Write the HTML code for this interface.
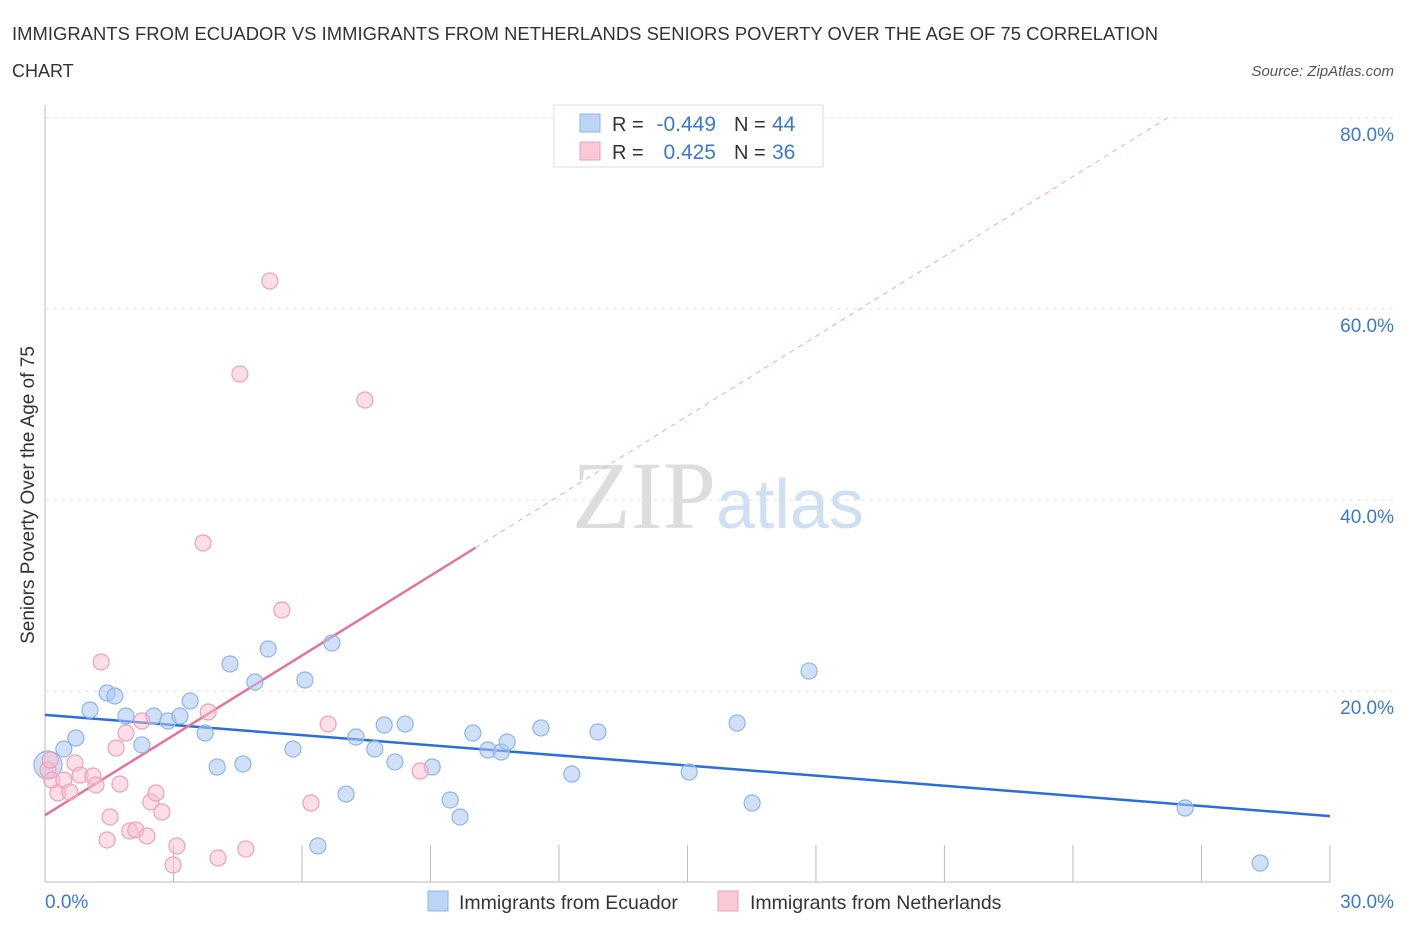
<!DOCTYPE html>
<html><head><meta charset="utf-8"><style>
body{margin:0;background:#fff;font-family:"Liberation Sans",sans-serif}
</style></head><body>
<svg width="1406" height="930" viewBox="0 0 1406 930" xmlns="http://www.w3.org/2000/svg">
<text x="12" y="40" font-size="18.4" fill="#333" textLength="1146">IMMIGRANTS FROM ECUADOR VS IMMIGRANTS FROM NETHERLANDS SENIORS POVERTY OVER THE AGE OF 75 CORRELATION</text>
<text x="12" y="77" font-size="18" fill="#333">CHART</text>
<text x="1394" y="76" font-size="15" fill="#555" font-style="italic" text-anchor="end">Source: ZipAtlas.com</text>
<g id="grid"></g>
<text x="716" y="528" font-size="96" fill="#ddd" text-anchor="end" font-family="Liberation Serif,serif">ZIP</text>
<text x="716" y="528" font-size="70" fill="#cfe0f3">atlas</text>
<text x="34" y="495" font-size="19" fill="#333" text-anchor="middle" transform="rotate(-90 34 495)">Seniors Poverty Over the Age of 75</text>
<g id="lines"></g>
<g id="pts"></g>
<g>
<rect x="554" y="105" width="269" height="62" fill="#fff" stroke="#ddd"/>
<rect x="580" y="114" width="20" height="18" fill="#bcd5f5" stroke="#8fb5e8"/>
<rect x="580" y="142" width="20" height="18" fill="#f9c9d6" stroke="#f0a0b8"/>
<text x="612" y="131" font-size="20" fill="#333">R =</text>
<text x="716" y="131" font-size="21" fill="#3a78d8" text-anchor="end">-0.449</text>
<text x="734" y="131" font-size="20" fill="#333">N =</text>
<text x="772" y="131" font-size="21" fill="#3a78d8">44</text>
<text x="612" y="159" font-size="20" fill="#333">R =</text>
<text x="716" y="159" font-size="21" fill="#3a78d8" text-anchor="end">0.425</text>
<text x="734" y="159" font-size="20" fill="#333">N =</text>
<text x="772" y="159" font-size="21" fill="#3a78d8">36</text>
</g>
<g>
<rect x="428" y="891" width="20" height="20" fill="#bcd5f5" stroke="#8fb5e8"/>
<text x="459" y="909" font-size="19.5" fill="#333">Immigrants from Ecuador</text>
<rect x="718" y="891" width="20" height="20" fill="#f9c9d6" stroke="#f0a0b8"/>
<text x="750" y="909" font-size="19.5" fill="#333">Immigrants from Netherlands</text>
</g>
<text x="45" y="908" font-size="19" fill="#3a78d8">0.0%</text>
<text x="1394" y="908" font-size="19" fill="#3a78d8" text-anchor="end">30.0%</text>
</svg>
<script>
const yTicks=[20,40,60,80];
const blueX=[0.07,0.44,0.72,1.05,1.45,1.63,1.89,2.26,2.54,2.87,3.15,3.39,3.74,4.02,4.32,4.62,4.90,5.21,5.79,6.07,6.37,6.70,7.03,7.26,7.70,7.92,8.17,8.41,9.04,9.46,9.69,9.99,10.34,10.65,10.79,11.58,12.30,12.91,15.04,16.16,16.51,17.84,26.62,28.37];
const blueY=[12.25,13.93,15.08,18.01,19.79,19.48,17.38,14.35,17.38,16.86,17.38,18.95,15.60,12.04,22.83,12.36,20.94,24.40,13.93,21.15,3.77,25.03,9.21,15.18,13.93,16.44,12.57,16.54,12.04,8.59,6.81,15.60,13.82,13.61,14.66,16.13,11.31,15.71,11.52,16.65,8.27,22.09,7.75,1.99];
const pinkX=[0.07,0.16,0.30,0.44,0.58,0.70,0.82,1.12,1.19,1.31,1.45,1.52,1.66,1.75,1.89,1.98,2.12,2.26,2.38,2.47,2.59,2.73,2.99,3.08,3.69,3.81,4.04,4.55,4.69,5.25,5.53,6.21,6.61,7.47,8.76,0.12];
const pinkY=[11.73,10.68,9.32,10.68,9.42,12.46,11.20,11.10,10.16,23.04,4.40,6.81,14.03,10.26,15.60,5.34,5.45,16.86,4.82,8.38,9.32,7.33,1.78,3.77,35.50,17.80,2.51,53.19,3.46,62.93,28.48,8.27,16.54,50.47,11.62,12.77];
const blueTrend=[17.5,6.9];
const pinkTrend=[7.0,35.0,80.0];
const X=v=>45+v*42.83, Y=v=>882-v*9.55;
const NS="http://www.w3.org/2000/svg";
function mk(t,a,p){const e=document.createElementNS(NS,t);for(const k in a)e.setAttribute(k,a[k]);p.appendChild(e);return e;}
const grid=document.getElementById('grid');
yTicks.forEach(t=>{
 const l=mk('line',{x1:45,x2:1394,y1:Y(t),y2:Y(t),stroke:'#e3e3e3','stroke-dasharray':'4,4'},grid);
 
 
 const tx=mk('text',{x:1394,y:Y(t)+23,'font-size':19,fill:'#3a78d8','text-anchor':'end'},grid);
 tx.textContent=t.toFixed(1)+'%';
 
 
});
mk('line',{x1:45,x2:45,y1:105,y2:882,stroke:'#bbb'},grid);
mk('line',{x1:45,x2:1330,y1:882,y2:882,stroke:'#bbb'},grid);
for(let i=0;i<=10;i++){mk('line',{x1:X(i*3),x2:X(i*3),y1:845,y2:882,stroke:'#bbb'},grid);}
const lines=document.getElementById('lines');
const bl=mk('line',{x1:X(0),y1:Y(blueTrend[0]),x2:X(30),y2:Y(blueTrend[1]),stroke:'#2a6fd6','stroke-width':2.5},lines);


const slope=(pinkTrend[1]-pinkTrend[0])/10.05;
const pl=mk('line',{x1:X(0),y1:Y(pinkTrend[0]),x2:X(10.05),y2:Y(pinkTrend[1]),stroke:'#e8709a','stroke-width':2.5},lines);


const xe=(pinkTrend[2]-pinkTrend[0])/slope;
const pd=mk('line',{x1:X(10.05),y1:Y(pinkTrend[1]),x2:X(xe),y2:Y(pinkTrend[2]),stroke:'#f0a8c0','stroke-width':1,'stroke-dasharray':'5,5'},lines);


const pts=document.getElementById('pts');
blueX.forEach((x,i)=>{
 const c=mk('circle',{cx:X(x),cy:Y(blueY[i]),r:i==0?14:8,fill:'rgba(170,200,240,0.55)',stroke:'#8fb5e8','stroke-width':1.2},pts);
 
 
});
pinkX.forEach((x,i)=>{
 const c=mk('circle',{cx:X(x),cy:Y(pinkY[i]),r:8,fill:'rgba(248,190,208,0.5)',stroke:'#f0a0b8','stroke-width':1.2},pts);
 
 
});
</script>
</body></html>
